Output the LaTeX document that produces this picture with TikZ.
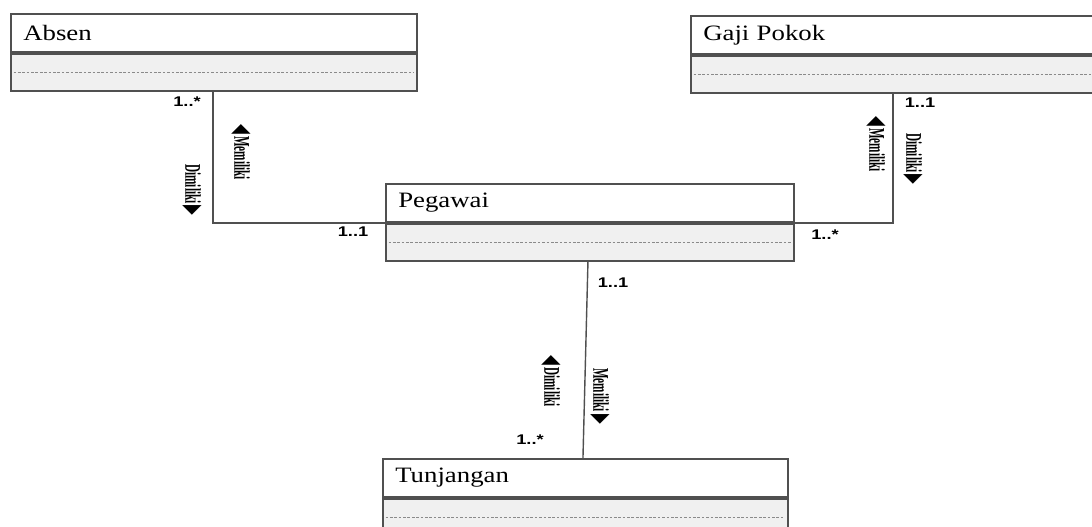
\documentclass[tikz,border=0pt]{standalone}
\usepackage{fontspec}
\setmainfont{Liberation Serif}
\newfontfamily\multfont[FakeStretch=1.3]{Liberation Sans}
\newfontfamily\symfont{DejaVu Sans}
\usepackage{graphicx}
\usetikzlibrary{positioning,calc}

\definecolor{boxline}{HTML}{505050}
\definecolor{bodyfill}{HTML}{F0F0F0}
\definecolor{sepgray}{HTML}{8A8A8A}
\newcommand{\rolelbl}[1]{\scalebox{0.85}[1.7]{#1}}
\newcommand{\tri}[1]{{\symfont\fontsize{8.5}{9}\selectfont #1}}

\tikzset{
  classname/.style={draw=boxline, line width=0.9pt, fill=white, anchor=north west,
    minimum height=0.77cm, text width=#1, inner xsep=0.25cm, align=left,
    font=\fontsize{12.5}{14}\selectfont\addfontfeature{FakeStretch=1.22}},
  classbody/.style={draw=boxline, line width=0.9pt, fill=bodyfill, anchor=north west,
    minimum width=#1, minimum height=0.74cm, inner sep=0pt},
  sepline/.style={sepgray, line width=0.5pt, dash pattern=on 1.5pt off 1pt},
  assoc/.style={boxline, line width=0.8pt},
  mult/.style={font=\multfont\bfseries\fontsize{8}{9}\selectfont, inner sep=0pt},
  role/.style={rotate=-90, font=\bfseries\fontsize{7.5}{8.5}\selectfont, inner sep=0pt}
}

\begin{document}
\begin{tikzpicture}[x=0.02cm,y=-0.02cm]
\useasboundingbox (0,0) rectangle (1092,527);
\clip (0,0) rectangle (1092,527);

% classes
\node[classname=7.62cm] (absen) at (10,13) {Absen};
\node[classbody=8.12cm] (absenbody) at (absen.south west) {};
\draw[sepline] ([xshift=2pt]absenbody.west) -- ([xshift=-2pt]absenbody.east);

\node[classname=7.9cm] (gaji) at (690,15) {Gaji Pokok};
\node[classbody=8.4cm] (gajibody) at (gaji.south west) {};
\draw[sepline] ([xshift=2pt]gajibody.west) -- ([xshift=-2pt]gajibody.east);

\node[classname=7.66cm] (pegawai) at (385,183) {Pegawai};
\node[classbody=8.16cm] (pegawaibody) at (pegawai.south west) {};
\draw[sepline] ([xshift=2pt]pegawaibody.west) -- ([xshift=-2pt]pegawaibody.east);

\node[classname=7.6cm] (tunjangan) at (382,458) {Tunjangan};
\node[classbody=8.1cm] (tunjanganbody) at (tunjangan.south west) {};
\draw[sepline] ([xshift=2pt]tunjanganbody.west) -- ([xshift=-2pt]tunjanganbody.east);

% associations
\draw[assoc] ([xshift=4.06cm]absenbody.south west) |- (pegawai.south west);
\draw[assoc] ([xshift=4.06cm]gajibody.south west) |- (pegawai.south east);
\draw[assoc] ([xshift=4.06cm]pegawaibody.south west) -- ([xshift=4.02cm]tunjangan.north west);

% multiplicities
\node[mult] (m1) at (187,102) {1..*};
\node[mult] (m2) at (353,232) {1..1};
\node[mult] (m3) at (920,103) {1..1};
\node[mult] (m4) at (825,235) {1..*};
\node[mult] (m5) at (613,283) {1..1};
\node[mult] (m6) at (530,440) {1..*};

% roles
\node[role] (r1) at (241,152) {\rolelbl{\tri{◀}\hspace{1.5pt}Memiliki}};
\node[role] (r2) at (192,190) {\rolelbl{Dimiliki\hspace{1.5pt}\tri{▶}}};
\node[role] (r3) at (876,144) {\rolelbl{\tri{◀}\hspace{1.5pt}Memiliki}};
\node[role] (r4) at (913,159) {\rolelbl{Dimiliki\hspace{1.5pt}\tri{▶}}};
\node[role] (r5) at (551,381) {\rolelbl{\tri{◀}\hspace{1.5pt}Dimiliki}};
\node[role] (r6) at (600,396) {\rolelbl{Memiliki\hspace{1.5pt}\tri{▶}}};
\end{tikzpicture}
\end{document}
